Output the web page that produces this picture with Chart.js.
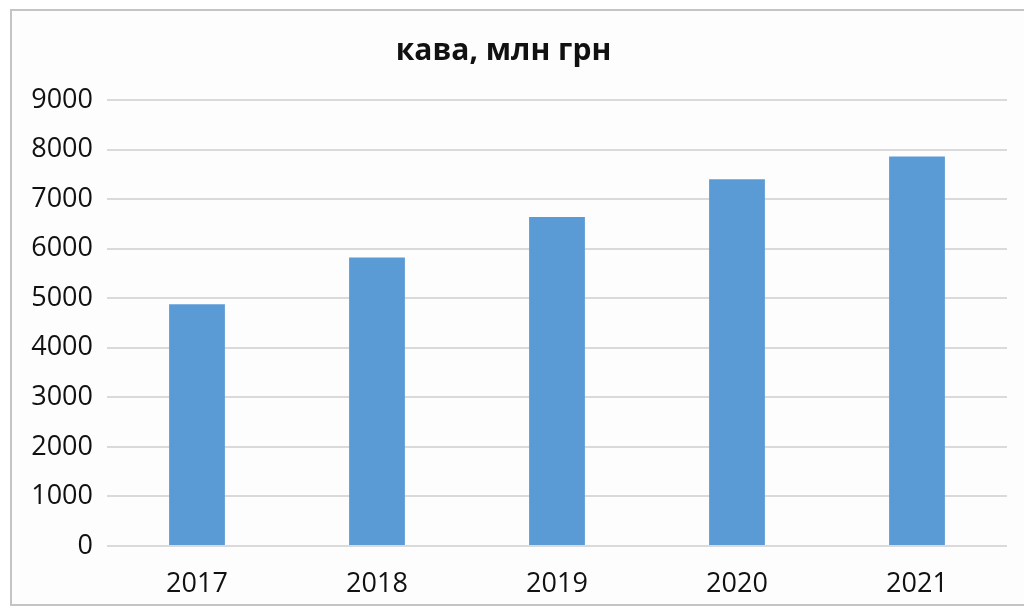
<!DOCTYPE html>
<html>
<head>
<meta charset="utf-8">
<script src="https://cdn.jsdelivr.net/npm/chart.js@4/dist/chart.umd.min.js"></script>
<style>
  html, body { margin: 0; padding: 0; background: #fff; overflow: hidden; }
  #frame {
    position: absolute; left: 10px; top: 9px; width: 1040px; height: 597px;
    border: 2px solid #c4c4c4; background: #fdfdfd; box-sizing: border-box;
  }
  #wrap { position: absolute; left: 0; top: 0; width: 1024px; height: 610px; }
</style>
</head>
<body>
<div id="frame"></div>
<div id="wrap"><canvas id="myChart"></canvas></div>
<script>
const years = ["2017", "2018", "2019", "2020", "2021"];
const coffee = [4880, 5820, 6640, 7400, 7860];
const yTicks = [0, 1000, 2000, 3000, 4000, 5000, 6000, 7000, 8000, 9000];

new Chart("myChart", {
  type: "bar",
  data: {
    labels: years,
    datasets: [{
      data: coffee,
      backgroundColor: "#5b9bd5",
      categoryPercentage: 1,
      barPercentage: 0.31
    }]
  },
  options: {
    responsive: true,
    maintainAspectRatio: false,
    animation: false,
    layout: { padding: { left: 0, right: 17, top: 0, bottom: 0 } },
    plugins: {
      legend: { display: false },
      tooltip: { enabled: false },
      title: {
        display: true,
        text: "кава, млн грн",
        color: "#111",
        font: { family: "'Open Sans'", size: 30, weight: "bold" },
        padding: { top: 33, bottom: 31 }
      }
    },
    scales: {
      x: {
        grid: { display: false, drawTicks: false },
        border: { display: false },
        ticks: { color: "#111", padding: 22, font: { family: "'Open Sans'", size: 27 } },
        afterFit: s => { s.height = 64; }
      },
      y: {
        min: 0,
        max: 9000,
        afterBuildTicks: s => { s.ticks = yTicks.map(v => ({ value: v })); },
        grid: { color: "#dadada", lineWidth: 2, drawTicks: false },
        border: { display: false },
        ticks: {
          color: "#111",
          padding: 14,
          font: { family: "'Open Sans'", size: 27 },
          callback: v => String(v)
        },
        afterFit: s => { s.width = 107; }
      }
    }
  }
});
</script>
</body>
</html>
